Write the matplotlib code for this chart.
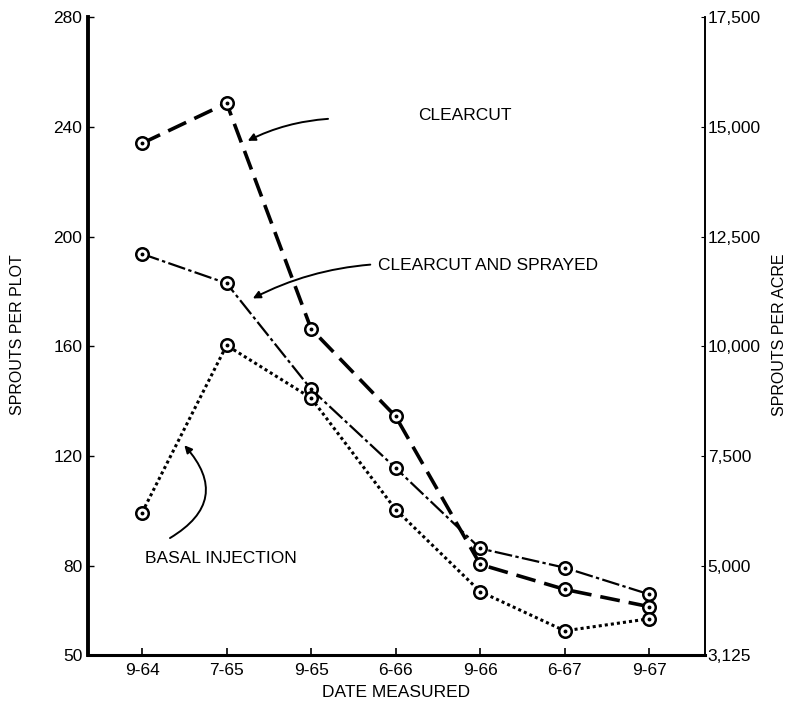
import matplotlib
matplotlib.use("Agg")
import matplotlib.pyplot as plt

plt.rcParams['font.family'] = ['Liberation Sans', 'DejaVu Sans']

dates = ["9-64", "7-65", "9-65", "6-66", "9-66", "6-67", "9-67"]
clearcut = [234, 248.6, 166.4, 134.5, 80.6, 71.5, 65.2]
clearcut_sprayed = [193.7, 183, 144.4, 115.7, 86.4, 79.4, 69.7]
basal_injection = [99.5, 160.4, 141.2, 100.6, 70.7, 56.4, 60.8]

left_ticks = [80, 120, 160, 200, 240, 280]
left_labels = ["50", "80", "120", "160", "200", "240", "280"]
right_labels = ["3,125", "5,000", "7,500", "10,000", "12,500", "15,000", "17,500"]
y_bottom = 47.6
y_top = 280

fig = plt.figure(figsize=(7.99, 7.06), dpi=100)
ax = fig.add_axes([88/799, 1-655/706, (705-88)/799, (655-17)/706])

x = list(range(len(dates)))

def draw(vals, **kw):
    ax.plot(x, vals, color='black', zorder=2, **kw)
    ax.plot(x, vals, linestyle='none', marker='o', markersize=9,
            markerfacecolor='white', markeredgecolor='black',
            markeredgewidth=1.8, zorder=3)
    ax.plot(x, vals, linestyle='none', marker='o', markersize=1.8,
            color='black', zorder=4)

draw(clearcut, linewidth=2.6, dashes=(5.5, 2.5))
draw(clearcut_sprayed, linewidth=1.6, dashes=(8, 1.5, 1.5, 1.5))
draw(basal_injection, linewidth=2.2, dashes=(1, 1))

ax.set_xlim(-0.64, 6.66)
ax.set_ylim(y_bottom, y_top)
ax.set_xticks(x)
ax.set_xticklabels(dates, fontsize=12.5)
ax.set_yticks([y_bottom] + left_ticks)
ax.set_yticklabels(left_labels, fontsize=12.5)
ax.tick_params(axis='x', direction='in', length=5, width=1.2, pad=6)
ax.tick_params(axis='y', direction='in', length=4, width=1.0, pad=4)

ax.spines['top'].set_visible(False)
ax.spines['left'].set_linewidth(2.8)
ax.spines['bottom'].set_linewidth(2.2)
ax.spines['right'].set_linewidth(1.2)

ax2 = ax.twinx()
ax2.set_ylim(y_bottom, y_top)
ax2.set_yticks([y_bottom] + left_ticks)
ax2.set_yticklabels(right_labels, fontsize=12.5)
ax2.tick_params(axis='y', direction='in', length=3, width=0.8, pad=2)
for s in ['top', 'left', 'bottom']:
    ax2.spines[s].set_visible(False)
ax2.spines['right'].set_linewidth(1.2)

ax.set_xlabel("DATE MEASURED", fontsize=12.5, labelpad=5)
fig.text(18/799, 1-335/706, "SPROUTS PER PLOT", rotation=90,
         ha='center', va='center', fontsize=11.5)
fig.text(780/799, 1-335/706, "SPROUTS PER ACRE", rotation=90,
         ha='center', va='center', fontsize=11.5)

arrow = dict(arrowstyle='-|>', color='black', lw=1.4, mutation_scale=11,
             shrinkA=0, shrinkB=0)
ax.text(3.27, 244, "CLEARCUT", fontsize=12.5, va='center', ha='left')
ax.annotate("", xy=(1.25, 234.9), xytext=(2.2, 242.9),
            arrowprops=dict(connectionstyle='arc3,rad=0.1', **arrow))
ax.text(2.79, 189.5, "CLEARCUT AND SPRAYED", fontsize=12.5, va='center', ha='left')
ax.annotate("", xy=(1.31, 177.5), xytext=(2.70, 189.8),
            arrowprops=dict(connectionstyle='arc3,rad=0.1', **arrow))
ax.text(0.035, 82.9, "BASAL INJECTION", fontsize=12.5, va='center', ha='left')
ax.annotate("", xy=(0.5, 124.0), xytext=(0.33, 90.2),
            arrowprops=dict(connectionstyle='arc3,rad=0.6', **arrow))

fig.savefig("out.png", dpi=100)
